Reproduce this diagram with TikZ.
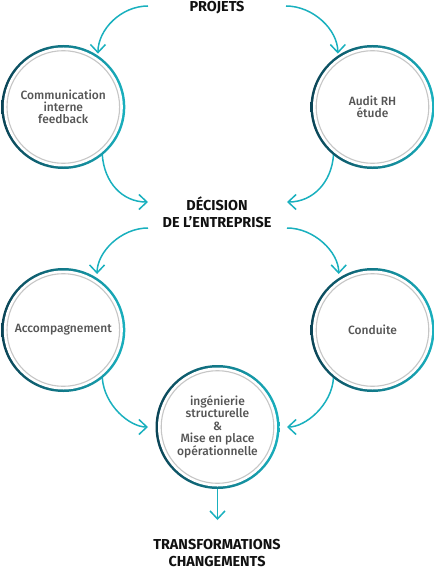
\documentclass[tikz,border=0pt]{standalone}
\usepackage{fontspec}
\setmainfont{Fira Sans}
\newfontfamily\medfont{Fira Sans Medium}
\usetikzlibrary{arrows.meta,calc}
\definecolor{cyanc}{HTML}{19B0BE}
\definecolor{darkc}{HTML}{0B4456}
\definecolor{ringgray}{HTML}{C6C6C6}
\definecolor{txtgray}{HTML}{555555}
\definecolor{titlec}{HTML}{111111}
\tikzset{
  ring/.style={circle, minimum size=124bp, inner sep=0pt, outer sep=0pt,
    left color=darkc, right color=cyanc,
    path picture={
      \fill[white] (path picture bounding box.center) circle (59.5bp);
      \draw[ringgray, line width=1.1bp] (path picture bounding box.center) circle (56.3bp);
    },
    text=txtgray, align=center, font=\medfont\fontsize{12bp}{12.3bp}\selectfont},
  title/.style={align=center, inner sep=0pt, text=titlec,
    font=\fontsize{14.4bp}{17bp}\selectfont\bfseries},
  arr/.style={draw=cyanc, line width=1.5bp, -{Straight Barb[length=8bp,width=15bp]}},
}
\begin{document}
\begin{tikzpicture}[x=1bp,y=-1bp]
\useasboundingbox (0,0) rectangle (435,572);
\node[title] (t1) at (217,7.5) {PROJETS};
\node[title] (t2) at (217,212.5) {DÉCISION\\DE L’ENTREPRISE};
\node[title] (t3) at (217,553.5) {TRANSFORMATIONS\\CHANGEMENTS};
\node[ring] (c1) at (63.3,107) {Communication\\interne\\feedback};
\node[ring] (c2) at (372.5,107) {Audit RH\\étude};
\node[ring] (c3) at (63.3,330) {Accompagnement};
\node[ring] (c4) at (372.5,330) {Conduite};
\node[ring] (c5) at (217.5,427) {ingénierie\\structurelle\\\&\\Mise en place\\opérationnelle};
% arrows
\draw[arr, shorten >=2bp] ($(t1.center)+(-69,-1.5)$) .. controls +(-27,0) and +(0,-26) .. (c1.56);
\draw[arr, shorten >=2bp] ($(t1.center)+(69,-1.5)$) .. controls +(27,0) and +(0,-26) .. (c2.124);
\draw[arr] (c1.-51) .. controls +(2,27) and +(-26,0) .. ($(t2.center)+(-69,-10.5)$);
\draw[arr] (c2.-129) .. controls +(-2,27) and +(26,0) .. ($(t2.center)+(70,-10.5)$);
\draw[arr, shorten >=4bp] ($(t2.center)+(-69,15.5)$) .. controls +(-27,0) and +(0,-26) .. (c3.57);
\draw[arr, shorten >=4bp] ($(t2.center)+(70,15.5)$) .. controls +(27,0) and +(0,-26) .. (c4.123);
\draw[arr, shorten >=7.5bp] (c3.-51) .. controls +(2,27) and +(-26,0) .. (c5.180);
\draw[arr, shorten >=7.5bp] (c4.-129) .. controls +(-2,27) and +(26,0) .. (c5.0);
\draw[arr] (c5.south) -- ($(t3.center)+(0.5,-33.5)$);
\end{tikzpicture}
\end{document}
